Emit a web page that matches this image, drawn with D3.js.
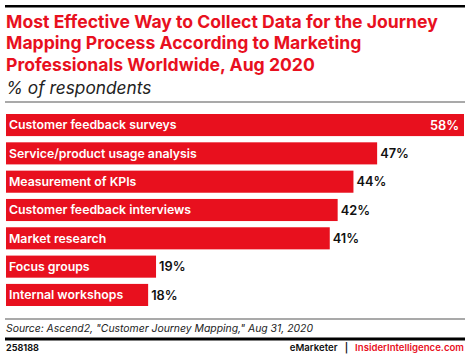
<!DOCTYPE html>
<html>
<head>
<meta charset="utf-8">
<script src="https://cdn.jsdelivr.net/npm/d3@7"></script>
<style>
  html, body { margin: 0; padding: 0; background: #fff; }
  svg { display: block; }
</style>
</head>
<body>
<svg id="chart" width="470" height="358"></svg>
<script>
const categories = [
  "Customer feedback surveys",
  "Service/product usage analysis",
  "Measurement of KPIs",
  "Customer feedback interviews",
  "Market research",
  "Focus groups",
  "Internal workshops"
];
const values = [58, 47, 44, 42, 41, 19, 18];
const titleLines = [
  "Most Effective Way to Collect Data for the Journey",
  "Mapping Process According to Marketing",
  "Professionals Worldwide, Aug 2020"
];
const subtitle = "% of respondents";
const sourceText = "Source: Ascend2, \"Customer Journey Mapping,\" Aug 31, 2020";
const chartId = "258188";

const RED = "#e8101e";
const FONT = "Inter, 'Noto Sans', sans-serif";
const svg = d3.select("#chart");

// top rule
svg.append("rect").attr("x", 5).attr("y", 5).attr("width", 460).attr("height", 2.5).attr("fill", "#000");

// title
titleLines.forEach((t, i) => {
  svg.append("text")
    .attr("x", 6).attr("y", 28 + i * 21.3)
    .attr("font-family", FONT).attr("font-weight", 700)
    .attr("font-size", 17.6).attr("fill", RED)
    .text(t);
});
svg.append("text")
  .attr("x", 6).attr("y", 93.5)
  .attr("font-family", FONT).attr("font-style", "italic")
  .attr("font-size", 17.3).attr("fill", "#222")
  .text(subtitle);
svg.append("rect").attr("x", 5).attr("y", 101.5).attr("width", 460).attr("height", 1).attr("fill", "#555");

// scales
const x = d3.scaleLinear().domain([0, 58]).range([6, 464]);
const y = d3.scaleBand().domain(categories).range([114, 306]).paddingInner(0.22).paddingOuter(0);

const g = svg.append("g");
const rows = g.selectAll("g.row").data(categories).join("g").attr("class", "row");

rows.append("rect")
  .attr("x", x(0))
  .attr("y", d => y(d))
  .attr("width", (d, i) => x(values[i]) - x(0))
  .attr("height", y.bandwidth())
  .attr("fill", RED);

rows.append("text")
  .attr("x", x(0) + 3)
  .attr("y", d => y(d) + y.bandwidth() / 2)
  .attr("dy", "0.36em")
  .attr("font-family", FONT).attr("font-weight", 600)
  .attr("font-size", 12.3).attr("fill", "#fff")
  .text(d => d);

rows.append("text")
  .attr("x", (d, i) => i === 0 ? x(values[i]) - 5 : x(values[i]) + 3)
  .attr("text-anchor", (d, i) => i === 0 ? "end" : "start")
  .attr("y", d => y(d) + y.bandwidth() / 2)
  .attr("dy", "0.36em")
  .attr("font-family", FONT).attr("font-weight", 600)
  .attr("font-size", 12.8)
  .attr("fill", (d, i) => i === 0 ? "#fff" : "#111")
  .text((d, i) => values[i] + "%");

// footer
svg.append("rect").attr("x", 5).attr("y", 318.5).attr("width", 460).attr("height", 1).attr("fill", "#555");
svg.append("text")
  .attr("x", 6).attr("y", 332)
  .attr("font-family", FONT).attr("font-style", "italic")
  .attr("font-size", 10.4).attr("fill", "#222")
  .text(sourceText);
svg.append("rect").attr("x", 5).attr("y", 337.5).attr("width", 460).attr("height", 3).attr("fill", "#000");
svg.append("text")
  .attr("x", 6).attr("y", 351)
  .attr("font-family", FONT).attr("font-weight", 700)
  .attr("font-size", 9).attr("fill", "#111")
  .text(chartId);
const foot = svg.append("text")
  .attr("x", 464).attr("y", 351)
  .attr("text-anchor", "end")
  .attr("font-family", FONT).attr("font-weight", 600)
  .attr("font-size", 9.6);
foot.append("tspan").attr("fill", "#111").text("eMarketer");
foot.append("tspan").attr("fill", "#111").attr("dx", 7).text("|");
foot.append("tspan").attr("fill", RED).attr("dx", 7).text("InsiderIntelligence.com");
</script>
</body>
</html>
